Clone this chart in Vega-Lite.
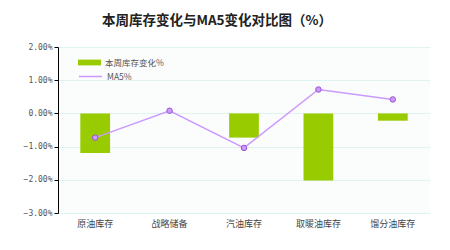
{
  "$schema": "https://vega.github.io/schema/vega-lite/v6.json",
  "autosize": "none",
  "width": 372,
  "height": 166,
  "padding": {"left": 58, "top": 47, "right": 20, "bottom": 37},
  "background": "#ffffff",
  "title": {
    "text": "本周库存变化与MA5变化对比图（%）",
    "anchor": "middle",
    "frame": "group",
    "dx": -27,
    "offset": 16,
    "fontSize": 13.5,
    "fontWeight": "bold",
    "font": "Noto Sans CJK SC",
    "color": "#222222"
  },
  "data": {
    "values": [
      {"category": "原油库存", "change": -0.0119, "ma5": -0.0073},
      {"category": "战略储备", "change": 0.0, "ma5": 0.0008},
      {"category": "汽油库存", "change": -0.0073, "ma5": -0.0104},
      {"category": "取暖油库存", "change": -0.0202, "ma5": 0.0072},
      {"category": "馏分油库存", "change": -0.0022, "ma5": 0.0042}
    ]
  },
  "config": {
    "view": {"stroke": null, "fill": "#fbfcfc"},
    "font": "Noto Sans CJK SC"
  },
  "encoding": {
    "x": {
      "field": "category",
      "type": "nominal",
      "sort": null,
      "scale": {"paddingInner": 0.6, "paddingOuter": 0.3},
      "axis": {
        "title": null,
        "domain": false,
        "ticks": false,
        "labelAngle": 0,
        "labelFontSize": 9,
        "labelColor": "#444444",
        "labelPadding": 6
      }
    }
  },
  "layer": [
    {
      "mark": {"type": "bar"},
      "encoding": {
        "y": {
          "field": "change",
          "type": "quantitative",
          "scale": {"domain": [-0.03, 0.02], "nice": false},
          "axis": {
            "title": null,
            "format": ".2%",
            "values": [-0.03, -0.02, -0.01, 0, 0.01, 0.02],
            "tickCount": 12,
            "labelOverlap": false,
            "grid": true,
            "gridColor": "#dff3f1",
            "gridWidth": 1,
            "domainColor": "#000000",
            "tickColor": "#000000",
            "tickSize": 4,
            "labelFontSize": 8,
            "labelColor": "#555555",
            "labelFont": "DejaVu Sans Mono"
          }
        },
        "fill": {
          "datum": "本周库存变化%",
          "scale": {"range": ["#99cc00"]},
          "legend": {
            "title": null,
            "orient": "none",
            "legendX": 20,
            "legendY": 4,
            "symbolType": "M-1,-0.25H1V0.25H-1Z",
            "symbolSize": 529,
            "symbolStrokeWidth": 0,
            "labelFontSize": 8.5,
            "labelColor": "#555555",
            "labelOffset": 4
          }
        }
      }
    },
    {
      "mark": {"type": "line", "strokeWidth": 1.5},
      "encoding": {
        "y": {"field": "ma5", "type": "quantitative"},
        "stroke": {
          "datum": "MA5%",
          "scale": {"range": ["#cc99ff"]},
          "legend": {
            "title": null,
            "orient": "none",
            "legendX": 20,
            "legendY": 17,
            "symbolType": "stroke",
            "symbolSize": 529,
            "symbolStrokeWidth": 1.5,
            "labelFontSize": 8.5,
            "labelColor": "#555555",
            "labelOffset": 4
          }
        }
      }
    },
    {
      "mark": {"type": "point", "filled": true, "fill": "#cc99ff", "stroke": "#9955cc", "strokeWidth": 1, "size": 30, "opacity": 1},
      "encoding": {
        "y": {"field": "ma5", "type": "quantitative"}
      }
    },
    {
      "mark": {"type": "rule", "color": "#000000", "strokeWidth": 1},
      "encoding": {
        "y": {"datum": 0}
      }
    }
  ],
  "resolve": {"legend": {"fill": "independent", "stroke": "independent"}}
}
